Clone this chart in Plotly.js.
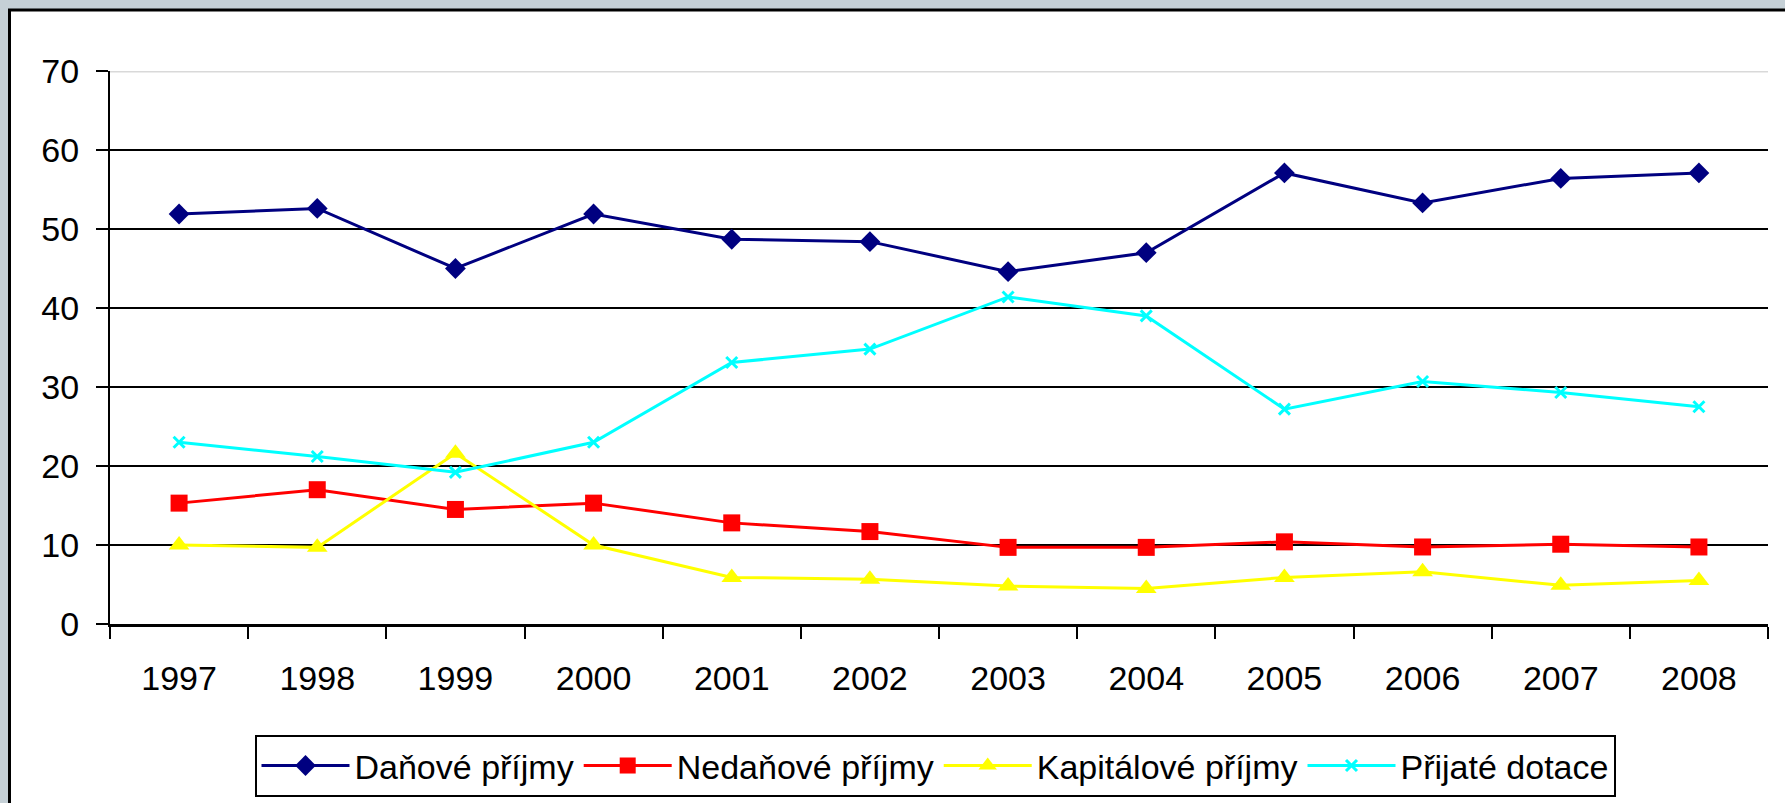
<!DOCTYPE html>
<html>
<head>
<meta charset="utf-8">
<script src="https://cdn.plot.ly/plotly-3.0.1.min.js"></script>
<style>
  html, body { margin: 0; padding: 0; background: #c5d0d6; }
  #chart { width: 1785px; height: 803px; }
</style>
</head>
<body>
<div id="chart"></div>
<script>
const years = ['1997','1998','1999','2000','2001','2002','2003','2004','2005','2006','2007','2008'];
const danove = [51.9, 52.6, 45.0, 51.9, 48.7, 48.4, 44.6, 47.0, 57.1, 53.3, 56.4, 57.1];
const nedanove = [15.3, 17.0, 14.5, 15.3, 12.8, 11.7, 9.7, 9.7, 10.4, 9.75, 10.1, 9.75];
const kapitalove = [10.0, 9.7, 21.6, 10.0, 5.9, 5.65, 4.8, 4.5, 5.9, 6.6, 4.9, 5.5];
const dotace = [23.0, 21.2, 19.2, 23.0, 33.1, 34.8, 41.4, 39.0, 27.2, 30.7, 29.3, 27.5];
const seriesNames = ['Daňové příjmy', 'Nedaňové příjmy', 'Kapitálové příjmy', 'Přijaté dotace'];

const W = 1785, H = 803;
const L = 110, R = 17, T = 70.6, B = 179;
const pw = W - L - R, ph = H - T - B;
const px = v => (v - L) / pw;          // pixel x -> paper x
const py = v => (H - B - v) / ph;      // pixel y -> paper y

const traces = [
  { x: years, y: danove, name: seriesNames[0], type: 'scatter', mode: 'lines+markers',
    line: { color: '#000080', width: 3 }, marker: { symbol: 'diamond', size: 16, color: '#000080' } },
  { x: years, y: nedanove, name: seriesNames[1], type: 'scatter', mode: 'lines+markers',
    line: { color: '#ff0000', width: 3 }, marker: { symbol: 'square', size: 17, color: '#ff0000' } },
  { x: years, y: kapitalove, name: seriesNames[2], type: 'scatter', mode: 'lines+markers',
    line: { color: '#ffff00', width: 3 }, marker: { symbol: 'triangle-up', size: 18, color: '#ffff00' } },
  { x: years, y: dotace, name: seriesNames[3], type: 'scatter', mode: 'lines+markers',
    line: { color: '#00ffff', width: 3 }, marker: { symbol: 'x-thin', size: 11, color: '#00ffff', line: { color: '#00ffff', width: 3 } } }
];

const font = { family: 'Liberation Sans, Arial, sans-serif', color: '#000000', size: 34 };

const layout = {
  width: W, height: H,
  margin: { l: L, r: R, t: T, b: B, pad: 0, autoexpand: false },
  paper_bgcolor: '#c5d0d6',
  plot_bgcolor: 'rgba(0,0,0,0)',
  font: font,
  showlegend: true,
  xaxis: {
    type: 'category',
    range: [-0.5, 11.5],
    showgrid: false,
    showline: true, linecolor: '#000000', linewidth: 3,
    ticks: 'outside', tickson: 'boundaries', ticklen: 12, tickwidth: 2, tickcolor: '#000000',
    ticklabelstandoff: 22,
    tickfont: font,
    zeroline: false,
    fixedrange: true
  },
  yaxis: {
    range: [0, 70], dtick: 10, tick0: 0,
    showgrid: true, gridcolor: '#000000', gridwidth: 2,
    showline: true, linecolor: '#000000', linewidth: 2,
    ticks: 'outside', ticklen: 12, tickwidth: 2, tickcolor: '#000000',
    ticklabelstandoff: 10,
    tickfont: font,
    zeroline: false,
    fixedrange: true
  },
  legend: {
    orientation: 'h',
    x: px(935), xanchor: 'center',
    y: py(735), yanchor: 'top',
    bgcolor: '#ffffff', bordercolor: '#000000', borderwidth: 2,
    font: { family: 'Liberation Sans, Arial, sans-serif', color: '#000000', size: 34 },
    itemwidth: 88,
    traceorder: 'normal'
  },
  shapes: [
    { type: 'rect', xref: 'paper', yref: 'paper', layer: 'below',
      x0: px(9.5), x1: px(W + 20), y0: py(H + 20), y1: py(9.5),
      fillcolor: '#ffffff', line: { color: '#000000', width: 3 } },
    { type: 'line', xref: 'paper', yref: 'y', layer: 'above',
      x0: 0, x1: 1, y0: 70, y1: 70,
      line: { color: '#d9d9d9', width: 3 } }
  ]
};

Plotly.newPlot('chart', traces, layout, { displayModeBar: false, staticPlot: true });
</script>
</body>
</html>
